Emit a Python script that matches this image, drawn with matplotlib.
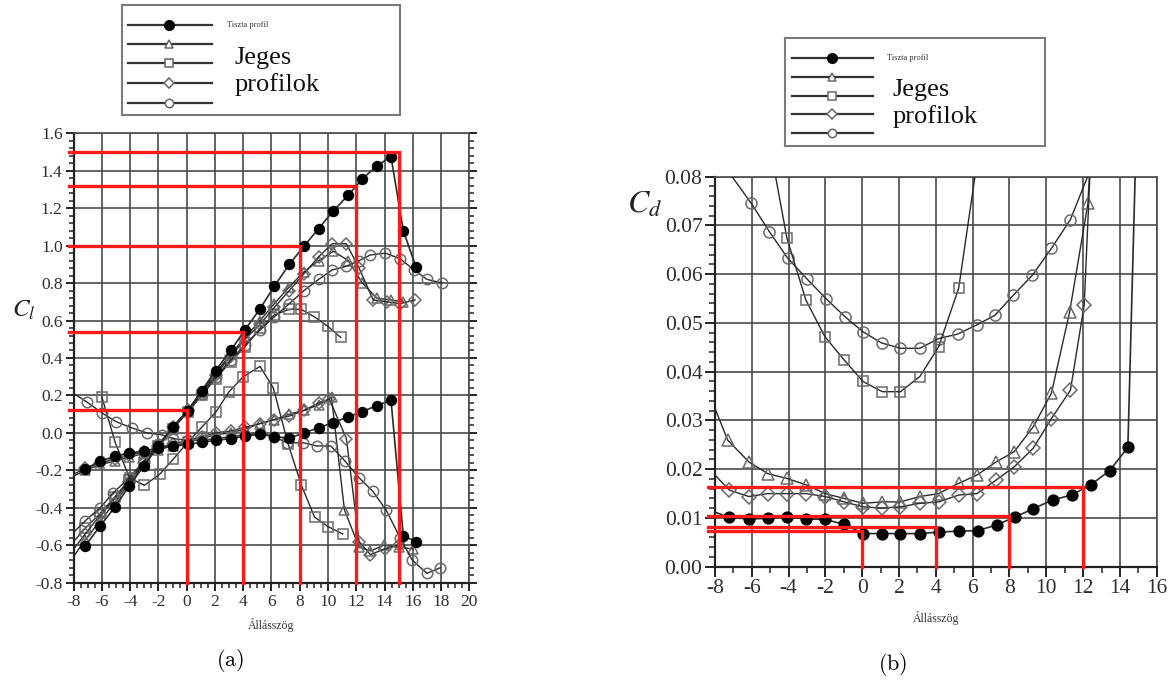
import matplotlib
matplotlib.use('Agg')
import matplotlib.pyplot as plt
from matplotlib.ticker import MultipleLocator, FormatStrFormatter

plt.rcParams['font.family'] = ['Liberation Serif', 'DejaVu Serif']
plt.rcParams['mathtext.fontset'] = 'stix'

# ---------------- (a) lift coefficient ----------------
cl_clean_x = [-7.19, -6.13, -5.07, -4.08, -3.02, -2.0, -0.99, 0.07, 1.06, 2.05, 3.11, 4.13,
              5.19, 6.2, 7.26, 8.3, 9.34, 10.38, 11.44, 12.43, 13.44, 14.46, 15.33, 16.23]
cl_clean_y = [-0.604, -0.497, -0.395, -0.283, -0.176, -0.068, 0.030, 0.119, 0.226, 0.333, 0.440,
              0.551, 0.663, 0.783, 0.900, 0.997, 1.091, 1.186, 1.270, 1.356, 1.425, 1.475, 1.08, 0.886]
cl_clean2_y = [-0.193, -0.151, -0.125, -0.107, -0.098, -0.08, -0.071, -0.062, -0.05, -0.04, -0.03,
               -0.018, -0.007, -0.02, -0.028, 0.0, 0.028, 0.055, 0.086, 0.114, 0.145, 0.175, -0.55, -0.58]

tri_up_x = [-8.0, -7.19, -6.13, -5.07, -4.08, -3.02, -2.0, -0.99, 0.07, 1.06, 2.05, 3.11, 4.13,
            5.19, 6.2, 7.26, 8.3, 9.34, 10.38, 11.44, 12.43, 13.44, 14.46, 15.33]
tri_up_y = [-0.66, -0.57, -0.47, -0.37, -0.27, -0.17, -0.07, 0.03, 0.12, 0.22, 0.32, 0.42, 0.51,
            0.60, 0.69, 0.78, 0.86, 0.92, 0.97, 0.92, 0.80, 0.72, 0.71, 0.70]
sq_up_x = [-8.0, -7.19, -6.13, -5.07, -4.08, -3.02, -2.0, -0.99, 0.07, 1.06, 2.05, 3.11, 4.13,
           5.19, 6.2, 7.26, 8.1, 9.03, 9.97, 10.9]
sq_up_y = [-0.58, -0.51, -0.43, -0.34, -0.25, -0.16, -0.07, 0.02, 0.11, 0.20, 0.29, 0.38, 0.46,
           0.56, 0.63, 0.66, 0.66, 0.62, 0.57, 0.51]
dia_up_x = [-8.0, -7.19, -6.13, -5.07, -4.08, -3.02, -2.0, -0.99, 0.07, 1.06, 2.05, 3.11, 4.13,
            5.19, 6.2, 7.26, 8.3, 9.34, 10.3, 11.3, 12.2, 13.2, 14.15, 15.1, 16.16]
dia_up_y = [-0.62, -0.54, -0.44, -0.35, -0.26, -0.16, -0.07, 0.03, 0.12, 0.21, 0.31, 0.41, 0.50,
            0.58, 0.67, 0.76, 0.85, 0.94, 1.01, 1.01, 0.88, 0.71, 0.70, 0.69, 0.71]
cir_up_x = [-8.0, -7.19, -6.13, -5.2, -4.08, -3.02, -2.0, -0.99, 0.07, 1.06, 2.05, 3.11, 4.13,
            5.19, 6.2, 7.26, 8.3, 9.34, 10.3, 11.3, 12.2, 13.0, 14.05, 15.1, 16.1, 17.0, 18.06]
cir_up_y = [-0.53, -0.47, -0.40, -0.32, -0.24, -0.15, -0.06, 0.03, 0.12, 0.21, 0.30, 0.39, 0.47,
            0.55, 0.62, 0.69, 0.76, 0.82, 0.87, 0.89, 0.92, 0.95, 0.96, 0.93, 0.87, 0.82, 0.80]

tri_lo_x = [-8.0, -7.19, -6.13, -5.07, -4.08, -3.02, -2.0, -0.99, 0.07, 1.06, 2.05, 3.11, 4.13,
            5.19, 6.2, 7.26, 8.3, 9.34, 10.25, 11.16, 12.2, 13.0, 13.96, 15.0, 16.0]
tri_lo_y = [-0.23, -0.20, -0.17, -0.15, -0.13, -0.11, -0.09, -0.07, -0.05, -0.03, -0.01, 0.0, 0.02,
            0.05, 0.07, 0.10, 0.12, 0.15, 0.19, -0.41, -0.61, -0.63, -0.60, -0.61, -0.62]
sq_lo_x = [-6.0, -5.07, -4.05, -3.0, -1.9, -0.95, 0.07, 1.06, 2.05, 3.0, 4.0, 5.19, 6.13, 7.18,
           8.12, 9.05, 10.0, 11.04]
sq_lo_y = [0.19, -0.05, -0.24, -0.28, -0.22, -0.14, -0.05, 0.03, 0.11, 0.22, 0.30, 0.355, 0.24,
           -0.06, -0.28, -0.45, -0.50, -0.54]
dia_lo_x = [-8.0, -7.19, -6.13, -5.07, -4.08, -3.02, -2.0, -0.99, 0.07, 1.06, 2.05, 3.11, 4.13,
            5.19, 6.2, 7.26, 8.3, 9.34, 10.1, 11.3, 12.2, 13.0, 14.0, 15.0]
dia_lo_y = [-0.22, -0.19, -0.16, -0.14, -0.12, -0.10, -0.08, -0.06, -0.04, -0.02, 0.0, 0.01, 0.03,
            0.05, 0.07, 0.09, 0.12, 0.16, 0.18, -0.03, -0.58, -0.65, -0.62, -0.60]
cir_lo_x = [-8.0, -7.07, -6.0, -5.0, -3.9, -2.83, -1.77, -0.99, 0.07, 1.06, 2.05, 3.11, 4.13,
            5.19, 6.2, 7.08, 8.25, 9.2, 10.2, 11.2, 12.2, 13.15, 14.1, 15.1, 15.95, 17.0, 17.94]
cir_lo_y = [0.21, 0.165, 0.107, 0.06, 0.027, 0.0, -0.01, -0.03, -0.04, -0.04, -0.03, -0.02, -0.01,
            0.0, -0.02, -0.053, -0.053, -0.07, -0.07, -0.15, -0.24, -0.31, -0.41, -0.56, -0.678,
            -0.75, -0.72]

red_a_x = [0, 4, 8, 12, 15]
red_a_y = [0.12, 0.54, 1.0, 1.32, 1.5]

a_xticks = list(range(-8, 21, 2))
a_yticks = [-0.8, -0.6, -0.4, -0.2, 0.0, 0.2, 0.4, 0.6, 0.8, 1.0, 1.2, 1.4, 1.6]

# ---------------- (b) drag coefficient ----------------
cd_clean_x = [-8.0, -7.21, -6.16, -5.13, -4.09, -3.04, -2.01, -0.98, 0.04, 1.09, 2.08, 3.13, 4.15,
              5.24, 6.27, 7.32, 8.3, 9.29, 10.34, 11.37, 12.41, 13.44, 14.43, 14.86]
cd_clean_y = [0.0112, 0.0101, 0.0098, 0.0099, 0.0102, 0.0098, 0.0097, 0.0087, 0.0068, 0.0068,
              0.0068, 0.0068, 0.0071, 0.0073, 0.0074, 0.0086, 0.0102, 0.0119, 0.0137, 0.0147,
              0.0168, 0.0197, 0.0245, 0.085]
cd_tri_x = [-8.0, -7.31, -6.16, -5.13, -4.09, -3.04, -2.01, -0.98, 0.04, 1.09, 2.08, 3.13, 4.15,
            5.24, 6.23, 7.28, 8.26, 9.29, 10.28, 11.27, 12.26, 12.38]
cd_tri_y = [0.0325, 0.026, 0.0215, 0.0191, 0.0181, 0.0168, 0.015, 0.014, 0.013, 0.0133, 0.0133,
            0.0144, 0.015, 0.0171, 0.0188, 0.0215, 0.0236, 0.0287, 0.0356, 0.0523, 0.0745, 0.083]
cd_sq_x = [-4.85, -4.09, -3.06, -2.03, -0.98, 0.04, 1.09, 2.08, 3.13, 4.15, 5.24, 6.2]
cd_sq_y = [0.083, 0.0674, 0.0547, 0.0472, 0.0424, 0.038, 0.0359, 0.0359, 0.039, 0.0451, 0.0571, 0.082]
cd_dia_x = [-8.0, -7.21, -6.16, -5.13, -4.09, -3.04, -2.01, -0.98, 0.04, 1.09, 2.08, 3.13, 4.15,
            5.24, 6.23, 7.28, 8.26, 9.29, 10.28, 11.31, 12.06, 12.4]
cd_dia_y = [0.0188, 0.0157, 0.0144, 0.015, 0.015, 0.015, 0.0144, 0.0133, 0.0123, 0.012, 0.0123,
            0.013, 0.0133, 0.0147, 0.015, 0.0178, 0.0205, 0.0243, 0.0304, 0.0362, 0.0537, 0.083]
cd_cir_x = [-7.45, -6.02, -5.04, -4.05, -3.02, -1.97, -0.94, 0.04, 1.05, 2.08, 3.13, 4.15, 5.18,
            6.23, 7.22, 8.21, 9.25, 10.28, 11.31, 12.4]
cd_cir_y = [0.082, 0.0745, 0.0687, 0.0633, 0.0591, 0.055, 0.0513, 0.0482, 0.0459, 0.0448, 0.0448,
            0.0468, 0.0477, 0.0496, 0.0516, 0.0557, 0.0598, 0.0653, 0.0712, 0.0815]

red_b_x = [0, 4, 8, 12]
red_b_y = [0.0073, 0.0081, 0.0104, 0.0164]

b_xticks = list(range(-8, 17, 2))
b_yticks = [0.00, 0.01, 0.02, 0.03, 0.04, 0.05, 0.06, 0.07, 0.08]

# ---------------- styling ----------------
LINE = '#2a2a2a'
MEC = '#6a6a6a'
GRID = '#4a4a4a'
RED = '#ff1a1a'
TICKC = '#2e2e2e'


def open_series(ax, x, y, marker, ms, skip_first=False, skip_last=False):
    n = len(x)
    start = 1 if skip_first else 0
    stop = n - 1 if skip_last else n
    ax.plot(x, y, '-', color=LINE, lw=1.0, marker=marker, ms=ms, mfc='none', mec=MEC,
            mew=1.1, markevery=list(range(start, stop)), zorder=3)


def filled_series(ax, x, y, ms, skip_first=False, skip_last=False):
    n = len(x)
    start = 1 if skip_first else 0
    stop = n - 1 if skip_last else n
    ax.plot(x, y, '-', color=LINE, lw=1.2, marker='o', ms=ms, mfc='black', mec='black',
            markevery=list(range(start, stop)), zorder=4)


def style_axes(ax):
    ax.grid(True, which='major', color=GRID, lw=1.2)
    ax.set_axisbelow(True)
    for s in ['left', 'bottom']:
        ax.spines[s].set_color('#222')
        ax.spines[s].set_linewidth(1.6)
    for s in ['top', 'right']:
        ax.spines[s].set_color(GRID)
        ax.spines[s].set_linewidth(1.2)


fig = plt.figure(figsize=(11.72, 6.82), dpi=100)

# ---------- panel (a) ----------
axa = fig.add_axes([0.0629, 0.1456, 0.3375, 0.659])
axa.set_xlim(-8, 20)
axa.set_ylim(-0.8, 1.6)
axa.set_xticks(a_xticks)
axa.set_yticks(a_yticks)
axa.xaxis.set_minor_locator(MultipleLocator(0.5))
axa.yaxis.set_minor_locator(MultipleLocator(0.04))
axa.yaxis.set_major_formatter(FormatStrFormatter('%.1f'))
axa.set_xticklabels([str(v) for v in a_xticks])
axa.tick_params(axis='both', which='major', labelsize=12.5, length=6, width=1.4,
                direction='out', colors='#222', labelcolor=TICKC, pad=2)
axa.tick_params(axis='both', which='minor', length=3.5, width=1.1, direction='out', colors='#222')
axa.tick_params(axis='y', which='both', right=True)
style_axes(axa)

filled_series(axa, cl_clean_x, cl_clean_y, 7.2)
filled_series(axa, cl_clean_x, cl_clean2_y, 7.2)
open_series(axa, tri_up_x, tri_up_y, '^', 7, skip_first=True)
open_series(axa, sq_up_x, sq_up_y, 's', 6.5, skip_first=True)
open_series(axa, dia_up_x, dia_up_y, 'D', 6, skip_first=True)
open_series(axa, cir_up_x, cir_up_y, 'o', 7.5, skip_first=True)
open_series(axa, tri_lo_x, tri_lo_y, '^', 7, skip_first=True)
open_series(axa, sq_lo_x, sq_lo_y, 's', 6.5)
open_series(axa, dia_lo_x, dia_lo_y, 'D', 6, skip_first=True)
open_series(axa, cir_lo_x, cir_lo_y, 'o', 7.5, skip_first=True)

for xv, yv in zip(red_a_x, red_a_y):
    axa.plot([-8.3, xv, xv], [yv, yv, -0.8], color=RED, lw=2.4, zorder=5,
             solid_joinstyle='miter', clip_on=False)

fig.text(0.020, 1 - 310 / 682, r'$C_l$', fontsize=18, ha='center', va='center', color='#222')
fig.text(270.7 / 1172, 1 - 625 / 682, 'Állásszög', fontsize=8.5, ha='center', va='center',
         color='#333')
fig.text(230 / 1172, 1 - 661 / 682, r'$\mathrm{(a)}$', fontsize=16, ha='center', va='center',
         math_fontfamily='cm')

# ---------- panel (b) ----------
axb = fig.add_axes([0.610, 0.169, 0.377, 0.572])
axb.set_xlim(-8, 16)
axb.set_ylim(0.0, 0.08)
axb.set_xticks(b_xticks)
axb.set_yticks(b_yticks)
axb.xaxis.set_minor_locator(MultipleLocator(1))
axb.yaxis.set_minor_locator(MultipleLocator(0.002))
axb.yaxis.set_major_formatter(FormatStrFormatter('%.2f'))
axb.set_xticklabels([str(v) for v in b_xticks])
axb.tick_params(axis='both', which='major', labelsize=15.5, length=7, width=1.4,
                direction='out', colors='#222', labelcolor=TICKC, pad=2)
axb.tick_params(axis='both', which='minor', length=4, width=1.1, direction='out', colors='#222')
style_axes(axb)

open_series(axb, cd_cir_x, cd_cir_y, 'o', 8, skip_first=True, skip_last=True)
open_series(axb, cd_sq_x, cd_sq_y, 's', 7.5, skip_first=True, skip_last=True)
open_series(axb, cd_tri_x, cd_tri_y, '^', 8, skip_first=True, skip_last=True)
open_series(axb, cd_dia_x, cd_dia_y, 'D', 7, skip_first=True, skip_last=True)
filled_series(axb, cd_clean_x, cd_clean_y, 7.8, skip_first=True, skip_last=True)

for xv, yv in zip(red_b_x, red_b_y):
    axb.plot([-8.4, xv, xv], [yv, yv, 0.0], color=RED, lw=2.4, zorder=5,
             solid_joinstyle='miter', clip_on=False)

fig.text(645 / 1172, 1 - 205 / 682, r'$C_d$', fontsize=23, ha='center', va='center', color='#222')
fig.text(936 / 1172, 1 - 618 / 682, 'Állásszög', fontsize=8.5, ha='center', va='center',
         color='#333')
fig.text(893 / 1172, 1 - 664 / 682, r'$\mathrm{(b)}$', fontsize=16, ha='center', va='center',
         math_fontfamily='cm')

# ---------- legends ----------
leg_markers = ['o', '^', 's', 'D', 'o']


def draw_legend(rect, rows, lx0, lx1, mx, tx, jx, jy, py, jfs, tfs):
    lg = fig.add_axes(rect)
    lg.set_xlim(0, 1)
    lg.set_ylim(0, 1)
    lg.set_xticks([])
    lg.set_yticks([])
    for s in lg.spines.values():
        s.set_color('#7a7a7a')
        s.set_linewidth(1.5)
    for i, (yr, mk) in enumerate(zip(rows, leg_markers)):
        lg.plot([lx0, lx1], [yr, yr], color='#333', lw=1.6)
        if i == 0:
            lg.plot([mx], [yr], marker='o', ms=7, mfc='black', mec='black')
        else:
            lg.plot([mx], [yr], marker=mk, ms=6 if mk != 'D' else 5, mfc='white',
                    mec='#666', mew=1.1)
    lg.text(tx, rows[0], 'Tiszta profil', fontsize=tfs, va='center', ha='left', color='#333')
    lg.text(jx, jy, 'Jeges', fontsize=jfs, va='center', ha='left', color='#111')
    lg.text(jx, py, 'profilok', fontsize=jfs, va='center', ha='left', color='#111')


draw_legend([122 / 1172, 1 - 115 / 682, 278 / 1172, 110 / 682],
            [0.818, 0.643, 0.47, 0.288, 0.112], 0.022, 0.324, 0.169, 0.377, 0.406, 0.518,
            0.273, 19, 6)
draw_legend([785 / 1172, 1 - 146 / 682, 260 / 1172, 107.7 / 682],
            [0.814, 0.643, 0.467, 0.294, 0.118], 0.026, 0.337, 0.18, 0.391, 0.415, 0.52,
            0.27, 19, 6)

fig.savefig('out.png', dpi=100)
